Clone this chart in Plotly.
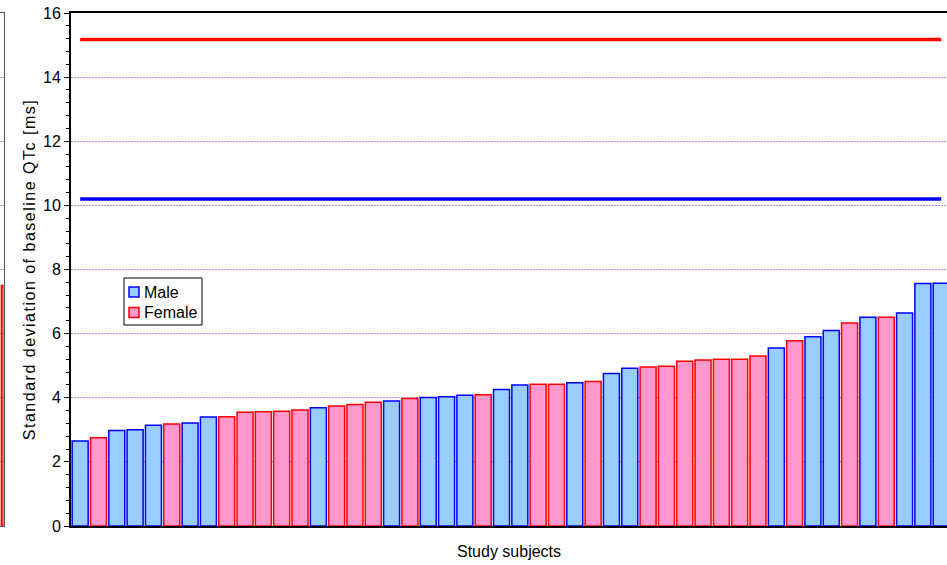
import plotly.graph_objects as go

# ---- data ----
subject_sex = ["M","F","M","M","M","F","M","M","F","F","F","F","F","M","F","F",
               "F","M","F","M","M","M","F","M","M","F","F","M","F","M","M","F",
               "F","F","F","F","F","F","M","F","M","M","F","M","F","M","M","M"]
subject_sd = [2.65,2.75,2.98,3.00,3.14,3.18,3.21,3.40,3.41,3.55,3.56,3.58,3.62,3.69,3.74,3.79,
              3.86,3.90,3.98,4.01,4.03,4.08,4.09,4.26,4.40,4.42,4.42,4.47,4.51,4.76,4.92,4.96,
              4.98,5.14,5.18,5.20,5.20,5.30,5.55,5.78,5.90,6.10,6.33,6.51,6.51,6.64,7.56,7.57]
male_reference_sd = 10.2
female_reference_sd = 15.17
prev_panel_values = [7.5]
y_ticks = [0, 2, 4, 6, 8, 10, 12, 14, 16]
series_names = ["Male", "Female"]
series_fill = ["#99CCFF", "#FF99CC"]
series_edge = ["#0000FF", "#FF0000"]

idx = list(range(len(subject_sd)))
male_x = [i for i in idx if subject_sex[i] == "M"]
male_y = [subject_sd[i] for i in male_x]
female_x = [i for i in idx if subject_sex[i] == "F"]
female_y = [subject_sd[i] for i in female_x]

W, H = 947, 565
plot_left, plot_top, plot_bottom = 71, 13, 526
pitch = 18.32
FS = 16

fig = go.Figure()
for name, xs, ys, fc, ec in zip(series_names, [male_x, female_x], [male_y, female_y], series_fill, series_edge):
    fig.add_trace(go.Bar(x=xs, y=ys, name=name, width=0.873, showlegend=False,
                         marker=dict(color=fc, line=dict(color=ec, width=1.5))))
fig.add_trace(go.Scatter(x=[idx[0], idx[-1]], y=[female_reference_sd]*2, mode="lines",
                         line=dict(color="#FF0000", width=3.5), showlegend=False, hoverinfo="skip"))
fig.add_trace(go.Scatter(x=[idx[0], idx[-1]], y=[male_reference_sd]*2, mode="lines",
                         line=dict(color="#0000FF", width=3.5), showlegend=False, hoverinfo="skip"))
# fragment of neighbouring panel at far left
fig.add_trace(go.Bar(x=[0], y=prev_panel_values, width=0.8, xaxis="x2", yaxis="y2", showlegend=False,
                     marker=dict(color="#FF99CC", line=dict(color="#FF0000", width=1.5))))

# legend drawn as box + swatches + text (pixel placement like the original)
def px_x(v):
    return v / W
def px_y(v):
    return 1 - (v - plot_top) / (plot_bottom - plot_top)

shapes = [dict(type="rect", xref="paper", yref="paper", x0=px_x(124), x1=px_x(202),
               y0=px_y(325), y1=px_y(278), line=dict(color="black", width=1), fillcolor="white",
               layer="above")]
annotations = []
for k, (name, fc, ec) in enumerate(zip(series_names, series_fill, series_edge)):
    cy = 292 + 20.5 * k
    shapes.append(dict(type="rect", xref="paper", yref="paper", x0=px_x(129), x1=px_x(139),
                       y0=px_y(cy + 5), y1=px_y(cy - 5), line=dict(color=ec, width=1.5),
                       fillcolor=fc, layer="above"))
    annotations.append(dict(text=name, xref="paper", yref="paper", x=px_x(141.5), y=px_y(cy),
                            xanchor="left", yanchor="middle", showarrow=False,
                            font=dict(size=FS, color="black")))

grid = dict(showgrid=True, gridcolor="#C080D0", gridwidth=1, griddash="2px,1px")
fig.update_layout(
    width=W, height=H,
    margin=dict(l=0, r=0, t=plot_top, b=H - plot_bottom),
    paper_bgcolor="white", plot_bgcolor="white",
    barmode="overlay",
    font=dict(family="Liberation Sans, Arial, sans-serif", color="black", size=FS),
    xaxis=dict(domain=[plot_left / W, 1], range=[-0.5, -0.5 + (W - plot_left) / pitch],
               showticklabels=False, ticks="", showgrid=False, zeroline=False,
               showline=True, linecolor="black", linewidth=2, mirror=True,
               title=dict(text="Study subjects", font=dict(size=FS), standoff=19)),
    yaxis=dict(range=[0, 16], tickvals=y_ticks, ticks="outside", ticklen=5, tickwidth=1,
               tickcolor="black", showline=True, linecolor="black", linewidth=2,
               zeroline=False, tickfont=dict(size=FS),
               minor=dict(dtick=0.4, ticks="outside", ticklen=3, tickcolor="black", showgrid=False),
               title=dict(text="Standard deviation of baseline QTc [ms]", font=dict(size=FS), standoff=3),
               **grid),
    xaxis2=dict(domain=[0, 3.5 / W], range=[-1, 0.5], showticklabels=False, ticks="",
                showgrid=False, zeroline=False, showline=True, linecolor="#555555",
                linewidth=1, mirror=True, anchor="y2"),
    yaxis2=dict(domain=[0, 1], range=[0, 16], tickvals=y_ticks, showticklabels=False,
                ticks="", zeroline=False, anchor="x2", side="right", showline=True,
                linecolor="#555555", linewidth=1, **grid),
    shapes=shapes,
    annotations=annotations,
    showlegend=False,
)
fig.write_html(
    "out.html", config={"displayModeBar": False},
    post_script=(
        "document.body.style.margin='0';document.body.style.overflow='hidden';"
        "document.querySelectorAll('.ytitle').forEach(function(t){t.style.letterSpacing='1.5px';});"
    ),
)
